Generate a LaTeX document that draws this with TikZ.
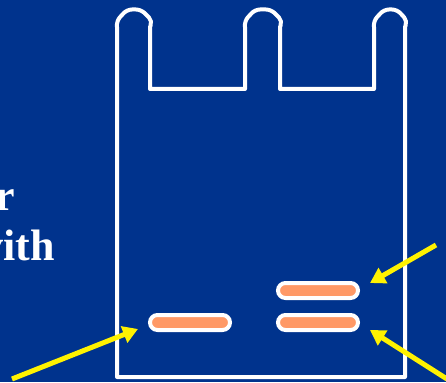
\documentclass[tikz,border=0pt]{standalone}
\usepackage{fontspec}
\setmainfont{Liberation Serif}
\usetikzlibrary{arrows.meta}
\definecolor{slideblue}{RGB}{0,51,141}
\definecolor{bandorange}{RGB}{255,153,102}

\begin{document}
\begin{tikzpicture}[
  x=1pt, y=-1pt,
  font=\bfseries\fontsize{44}{50}\selectfont,
  gel/.style={draw=white, line width=4pt, line join=round},
  band/.style={rectangle, rounded corners=7.5pt, draw=white, line width=4pt, fill=bandorange,
               minimum width=80pt, minimum height=15pt, inner sep=0pt},
  word/.style={text=white, anchor=base east, inner sep=0pt},
  ptr/.style={-{Triangle[length=15pt,width=17pt]}, draw=yellow, fill=yellow, line width=5pt}
]
\useasboundingbox (0,0) rectangle (446,382);
\fill[slideblue] (0,0) rectangle (446,382);
\clip (0,0) rectangle (446,382);

\node[word] (forword)  at (15,210) {r};
\node[word] (withword) at (55,260) {vith};

\draw[gel] (117,377) -- (117,27)
  [rounded corners=5pt] -- (116.5,21) -- (127,9.5) -- (141,9.5) -- (152.5,21) [sharp corners] -- (150,27)
  -- (150,89) -- (245,89) -- (245,27)
  [rounded corners=5pt] -- (244.5,21) -- (255,9.5) -- (271,9.5) -- (282.5,21) [sharp corners] -- (280,27)
  -- (280,89) -- (374,89) -- (374,27)
  [rounded corners=5pt] -- (373.5,21) -- (384,9.5) -- (397,9.5) -- (407.5,21) [sharp corners] -- (405,27)
  -- (405,377) -- cycle;

\node[band] (bandA) at (190,322.5) {};
\node[band] (bandB) at (318,290.5) {};
\node[band] (bandC) at (318,322.5) {};

\coordinate (tailA) at (12,379);
\coordinate (tailB) at (436,245);
\coordinate (tailC) at (447,379);

\draw[ptr] (tailA) -- ([shift={(-10,6.5)}]bandA.west);
\draw[ptr] (tailB) -- ([shift={(10,-7.5)}]bandB.east);
\draw[ptr] (tailC) -- ([shift={(10,7.5)}]bandC.east);
\end{tikzpicture}
\end{document}
